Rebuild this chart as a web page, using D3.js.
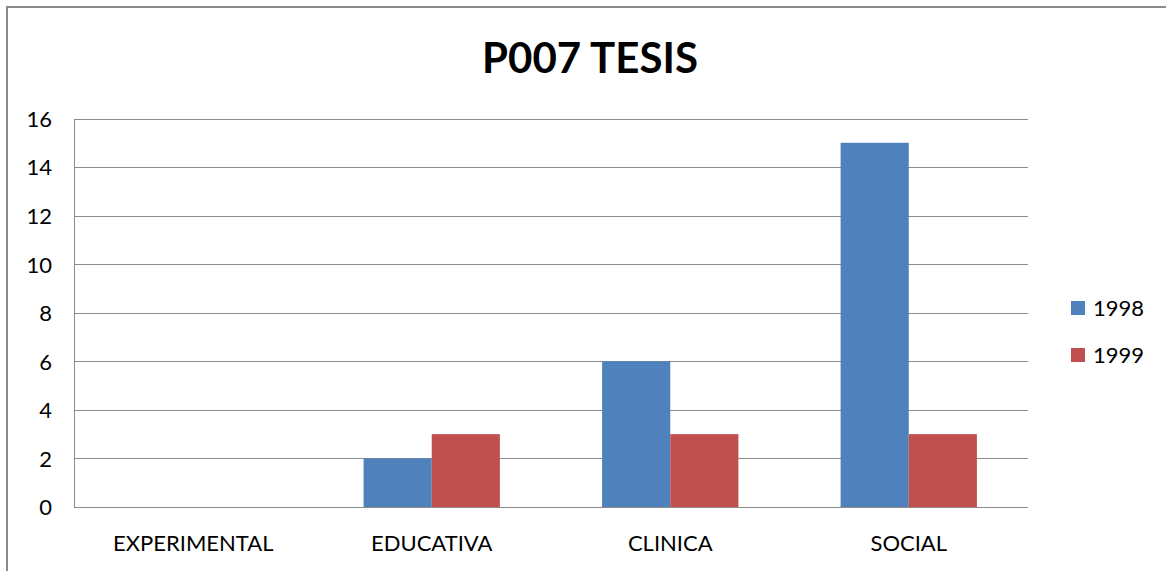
<!DOCTYPE html>
<html><head><meta charset="utf-8">
<script src="https://cdn.jsdelivr.net/npm/d3@7"></script>
<style>body{margin:0;background:#fff}svg{display:block}text{font-family:Lato,"Open Sans",sans-serif;fill:#000}</style>
</head><body><svg id="c" width="1166" height="571"></svg>
<script>
const categories = ["EXPERIMENTAL","EDUCATIVA","CLINICA","SOCIAL"];
const seriesNames = ["1998","1999"];
const values1998 = [0,2,6,15];
const values1999 = [0,3,3,3];
const yTicks = [0,2,4,6,8,10,12,14,16];
const colors = ["#4F81BD","#C0504D"];

const svg = d3.select("#c");
const L=74,R=1028,T=118.5,B=507;
svg.append("rect").attr("x",7).attr("y",7).attr("width",1200).attr("height",600)
  .attr("fill","none").attr("stroke","#8a8a8a").attr("stroke-width",2);

const y = d3.scaleLinear().domain([0,16]).range([B,T]);
const p = 1.5/3.5;
const x0 = d3.scaleBand().domain(categories).range([L,R]).paddingInner(p).paddingOuter(p/2);
const x1 = d3.scaleBand().domain(seriesNames).range([0,x0.bandwidth()]);

// gridlines
svg.append("g").selectAll("line").data(yTicks).join("line")
  .attr("x1",L).attr("x2",R).attr("y1",d=>Math.round(y(d))+0.5).attr("y2",d=>Math.round(y(d))+0.5)
  .attr("stroke","#8c8c8c").attr("stroke-width",1);
svg.append("line").attr("x1",L+0.5).attr("x2",L+0.5).attr("y1",Math.round(T)+0.5).attr("y2",Math.round(B)+0.5)
  .attr("stroke","#8c8c8c");

const data = [values1998, values1999];
const g = svg.append("g");
categories.forEach((c,i)=>{
  seriesNames.forEach((s,j)=>{
    const v = data[j][i];
    if(v>0) g.append("rect").attr("x",x0(c)+x1(s)).attr("width",x1.bandwidth())
      .attr("y",y(v)).attr("height",y(0)-y(v)).attr("fill",colors[j]);
  });
});

// y labels
const yAxis = d3.axisLeft(y).tickValues(yTicks).tickSize(0).tickPadding(0);
const ya = svg.append("g").attr("transform",`translate(${L-22},0)`).call(yAxis);
ya.select(".domain").remove();
ya.selectAll("text").style("font-size","22px").attr("font-family","Lato").attr("fill","#000").attr("dy","0.36em");

const xAxis = d3.axisBottom(x0).tickSize(0).tickPadding(0);
const xa = svg.append("g").attr("transform",`translate(0,${B+28})`).call(xAxis);
xa.select(".domain").remove();
xa.selectAll("text").style("font-size","22px").attr("font-family","Lato").attr("fill","#000").attr("dy","0.71em");

svg.append("text").attr("x",590).attr("y",73).attr("text-anchor","middle")
  .style("font-size","42px").style("font-weight","bold").text("P007 TESIS");

const lg = svg.append("g");
seriesNames.forEach((s,j)=>{
  const yy = 308 + j*47;
  lg.append("rect").attr("x",1071).attr("y",yy-7).attr("width",14).attr("height",14).attr("fill",colors[j]);
  lg.append("text").attr("x",1093).attr("y",yy).attr("dy","0.36em").style("font-size","22px").text(s);
});
</script></body></html>
